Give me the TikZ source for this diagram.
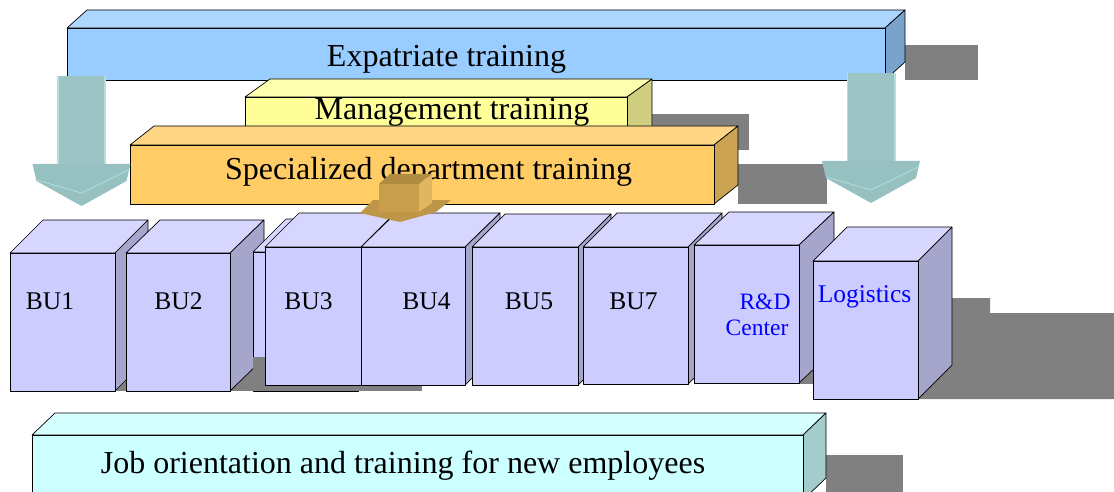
\documentclass[tikz,border=0pt]{standalone}
\usepackage{fontspec}
\setmainfont{Liberation Serif}
\usetikzlibrary{calc}

\begin{document}
\begin{tikzpicture}[x=1pt, y=-1pt,
  edge/.style={draw=black, line width=0.7pt, line join=round},
  shade/.style={fill=shadowgray, draw=none},
  barlabel/.style={anchor=base, inner sep=0pt, font=\fontsize{32}{35}\selectfont},
  bulabel/.style={anchor=base, inner sep=0pt, font=\fontsize{25.5}{28}\selectfont},
  sitelabel/.style={anchor=base, inner sep=0pt, text=siteblue, font=\fontsize{23.5}{25}\selectfont}]

%─────────────
% Controls
%─────────────
\definecolor{shadowgray}{rgb}{0.5,0.5,0.5}
\definecolor{siteblue}{rgb}{0,0,1}
\definecolor{expatfront}{RGB}{153,204,255}  \definecolor{expattop}{RGB}{173,214,255}  \definecolor{expatside}{RGB}{122,163,204}
\definecolor{mgmtfront}{RGB}{255,255,153}   \definecolor{mgmttop}{RGB}{255,255,176}   \definecolor{mgmtside}{RGB}{208,206,128}
\definecolor{specfront}{RGB}{255,204,102}   \definecolor{spectop}{RGB}{255,214,133}   \definecolor{specside}{RGB}{204,163,82}
\definecolor{unitfront}{RGB}{204,204,255}   \definecolor{unittop}{RGB}{214,214,255}   \definecolor{unitside}{RGB}{166,166,204}
\definecolor{newhirefront}{RGB}{204,255,255} \definecolor{newhiretop}{RGB}{214,255,255} \definecolor{newhireside}{RGB}{163,204,204}
\definecolor{tealbody}{RGB}{156,196,196}  \definecolor{teallight}{RGB}{180,222,222}  \definecolor{tealhead}{RGB}{151,192,192}
\definecolor{goldfront}{RGB}{200,158,76}  \definecolor{goldtop}{RGB}{176,140,66}  \definecolor{goldside}{RGB}{226,182,96}  \definecolor{goldhead}{RGB}{190,150,72}

\useasboundingbox (0,0) rectangle (1114,492);

%─────────────────────────────────────────────────────────────
% Cuboid: left, top, right, bottom, depth x, depth y, colour prefix
%─────────────────────────────────────────────────────────────
\newcommand{\drawCuboid}[7]{%
  % top face
  \filldraw[edge, fill=#7top] (#1,#2) -- ({#1+#5},{#2-#6}) -- ({#3+#5},{#2-#6}) -- (#3,#2) -- cycle;
  % side face
  \filldraw[edge, fill=#7side] (#3,#2) -- ({#3+#5},{#2-#6}) -- ({#3+#5},{#4-#6}) -- (#3,#4) -- cycle;
  % front face
  \filldraw[edge, fill=#7front] (#1,#2) rectangle (#3,#4);
}

%─────────────────────────────────────────────────────────────
% Block arrow pointing down: centre x, shaft top, head top, tip
%─────────────────────────────────────────────────────────────
\newcommand{\drawDownArrow}[4]{%
  \fill[tealbody] ({#1-24.5},#2) rectangle ({#1+24.5},{#3+1});
  \draw[teallight, line width=1.6pt] ({#1-23.7},#2) -- ({#1-23.7},#3);
  \draw[teallight, line width=1.6pt] ({#1+23.7},#2) -- ({#1+23.7},#3);
  \fill[tealhead] ({#1-49},#3) -- ({#1+49},#3) -- ({#1+45},{#3+17}) -- (#1,#4) -- ({#1-45},{#3+17}) -- cycle;
  \draw[teallight, line width=0.8pt] ({#1-45},{#3+16}) -- (#1,{#3+29}) -- ({#1+47},{#3+6});
}

%─────────────
% Shadows
%─────────────
\fill[shade] (905,45) rectangle (978,80);    % expatriate
\fill[shade] (652,114) rectangle (749,150);  % management
\fill[shade] (738,164) rectangle (827,204);  % specialized
\fill[shade] (826,455) rectangle (903,492);  % new employees
\fill[shade] (110,340) rectangle (265,391);  % BU row, left
\fill[shade] (799,340) rectangle (813,384);  % BU row, gap
\fill[shade] (900,298) -- (990,298) -- (990,313) -- (1114,313) -- (1114,399) -- (900,399) -- cycle;

%─────────────
% Training layers
%─────────────
\drawCuboid{67}{28}{885}{80}{20}{18}{expat}     % Expatriate
\node[barlabel] (expat) at (446.5,67) {Expatriate training};
\drawCuboid{245}{97}{627}{145}{25}{18}{mgmt}    % Management
\node[barlabel] (mgmt) at (452,120) {Management training};
\drawCuboid{130}{145}{714}{204}{24}{19}{spec}   % Specialized
\node[barlabel] (spec) at (428.5,179) {Specialized department training};

\drawDownArrow{81.5}{76}{164}{206}
\drawDownArrow{871}{73}{161}{203}

%─────────────
% Business units
%─────────────
\drawCuboid{10}{253}{115}{391}{33}{33}{unit}    % BU1
\drawCuboid{126}{253}{230}{391}{34}{33}{unit}   % BU2
\drawCuboid{253}{252}{358}{391}{33}{33}{unit}   % frame behind BU3
\fill[shade] (253.4,357) rectangle (265,390.6);
\fill[shade] (265,385) rectangle (422,390.6);
\drawCuboid{265}{247}{361}{385}{34}{34}{unit}   % BU3
\drawCuboid{361}{247}{465}{385}{35}{34}{unit}   % BU4
\drawCuboid{472}{247}{578}{385}{33}{33}{unit}   % BU5
\drawCuboid{583}{247}{688}{384}{34}{34}{unit}   % BU7
\drawCuboid{694}{245}{799}{383}{35}{33}{unit}   % R&D
\drawCuboid{813}{261}{918}{399}{34}{34}{unit}   % Logistics

\node[bulabel] (bu1) at (50,309) {BU1};
\node[bulabel] (bu2) at (178.5,309) {BU2};
\node[bulabel] (bu3) at (308.5,309) {BU3};
\node[bulabel] (bu4) at (426.5,309) {BU4};
\node[bulabel] (bu5) at (529,309) {BU5};
\node[bulabel] (bu7) at (633.5,309) {BU7};
\node[sitelabel] (rnd) at (765,309) {R\&D};
\node[sitelabel] (rndb) at (757,335) {Center};
\node[bulabel, text=siteblue] (logi) at (864.5,302) {Logistics};

%─────────────
% Small arrow into the units
%─────────────
\fill[goldhead] (373,200) -- (451,200) -- (436,212) -- (400,222) -- (360,213) -- cycle;
\fill[goldtop] (379,184) -- (390,174) -- (432,174) -- (419,184) -- cycle;
\fill[goldside] (419,184) -- (432,174) -- (432,203) -- (419,212) -- cycle;
\fill[goldfront] (379,184) rectangle (419,212);

%─────────────
% New employees
%─────────────
\drawCuboid{32}{435}{803}{500}{23}{22}{newhire}
\node[barlabel] (newhire) at (403,473) {Job orientation and training for new employees};

\end{tikzpicture}
\end{document}
